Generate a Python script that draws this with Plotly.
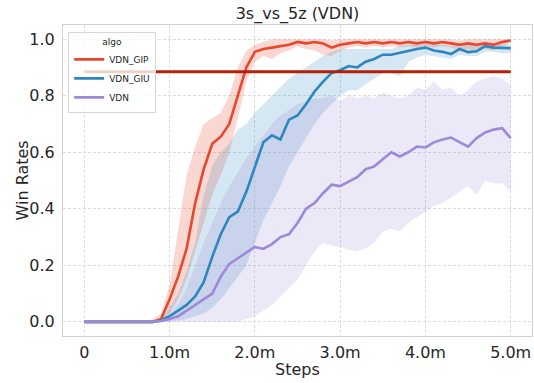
import plotly.graph_objects as go

steps = [round(i * 0.1, 1) for i in range(51)]

gip_mean = [0, 0, 0, 0, 0, 0, 0, 0, 0, 0.01, 0.08, 0.16, 0.26, 0.42, 0.54, 0.63, 0.655, 0.7, 0.8, 0.9,
            0.955, 0.965, 0.97, 0.975, 0.98, 0.99, 0.985, 0.99, 0.985, 0.97, 0.98, 0.985, 0.99, 0.985, 0.99,
            0.985, 0.99, 0.985, 0.99, 0.985, 0.99, 0.985, 0.99, 0.985, 0.98, 0.985, 0.98, 0.985, 0.98, 0.99, 0.995]
gip_upper = [0, 0, 0, 0, 0, 0, 0, 0, 0.01, 0.03, 0.13, 0.32, 0.52, 0.62, 0.7, 0.72, 0.74, 0.8, 0.9, 0.96,
             0.98, 0.99, 1.0, 1.0, 1.0, 1.0, 1.0, 1.0, 1.0, 0.995, 1.0, 1.0, 1.0, 1.0, 1.0,
             1.0, 1.0, 1.0, 1.0, 1.0, 1.0, 1.0, 1.0, 1.0, 0.995, 1.0, 1.0, 1.0, 1.0, 1.0, 1.0]
gip_lower = [0, 0, 0, 0, 0, 0, 0, 0, 0, 0, 0.03, 0.08, 0.15, 0.25, 0.35, 0.45, 0.52, 0.6, 0.72, 0.85,
             0.92, 0.94, 0.93, 0.95, 0.96, 0.975, 0.965, 0.96, 0.945, 0.94, 0.96, 0.97, 0.975, 0.97, 0.975,
             0.97, 0.975, 0.97, 0.975, 0.97, 0.975, 0.97, 0.975, 0.97, 0.96, 0.965, 0.96, 0.965, 0.96, 0.975, 0.985]

giu_mean = [0, 0, 0, 0, 0, 0, 0, 0, 0, 0.005, 0.02, 0.04, 0.06, 0.09, 0.14, 0.23, 0.31, 0.37, 0.39, 0.46,
            0.55, 0.635, 0.66, 0.645, 0.715, 0.73, 0.77, 0.815, 0.85, 0.88, 0.89, 0.905, 0.9, 0.92, 0.93,
            0.945, 0.945, 0.952, 0.957, 0.965, 0.97, 0.96, 0.955, 0.947, 0.965, 0.954, 0.957, 0.975, 0.97, 0.97, 0.968]
giu_upper = [0, 0, 0, 0, 0, 0, 0, 0, 0, 0.01, 0.05, 0.1, 0.18, 0.28, 0.45, 0.55, 0.6, 0.63, 0.68, 0.7,
             0.74, 0.77, 0.8, 0.83, 0.86, 0.88, 0.9, 0.92, 0.94, 0.955, 0.965, 0.965, 0.965, 0.965, 0.965,
             0.965, 0.965, 0.975, 0.98, 0.98, 0.985, 0.985, 0.98, 0.975, 0.985, 0.98, 0.98, 0.99, 0.985, 0.985, 0.98]
giu_lower = [0, 0, 0, 0, 0, 0, 0, 0, 0, 0, 0, 0.005, 0.01, 0.02, 0.03, 0.05, 0.08, 0.12, 0.16, 0.2,
             0.28, 0.36, 0.42, 0.48, 0.55, 0.6, 0.65, 0.7, 0.74, 0.77, 0.8, 0.82, 0.82, 0.84, 0.86,
             0.88, 0.88, 0.87, 0.92, 0.935, 0.945, 0.94, 0.935, 0.93, 0.945, 0.94, 0.94, 0.955, 0.955, 0.95, 0.95]

vdn_mean = [0, 0, 0, 0, 0, 0, 0, 0, 0, 0.003, 0.01, 0.02, 0.04, 0.06, 0.08, 0.1, 0.16, 0.205, 0.225, 0.245,
            0.265, 0.258, 0.275, 0.3, 0.31, 0.35, 0.4, 0.42, 0.455, 0.485, 0.48, 0.496, 0.512, 0.54, 0.55,
            0.575, 0.6, 0.585, 0.6, 0.62, 0.617, 0.635, 0.645, 0.652, 0.635, 0.62, 0.65, 0.67, 0.68, 0.685, 0.65]
vdn_upper = [0, 0, 0, 0, 0, 0, 0, 0, 0, 0.01, 0.03, 0.06, 0.12, 0.2, 0.28, 0.35, 0.42, 0.48, 0.53, 0.58,
             0.62, 0.66, 0.7, 0.73, 0.75, 0.77, 0.78, 0.79, 0.79, 0.8, 0.78, 0.8, 0.79, 0.8, 0.79,
             0.81, 0.8, 0.79, 0.8, 0.83, 0.82, 0.85, 0.82, 0.83, 0.8, 0.82, 0.85, 0.86, 0.87, 0.86, 0.84]
vdn_lower = [0, 0, 0, 0, 0, 0, 0, 0, 0, 0, 0, 0, 0, 0, 0, 0, 0, 0, 0, 0.01,
             0.02, 0.04, 0.06, 0.09, 0.12, 0.15, 0.2, 0.25, 0.28, 0.27, 0.265, 0.255, 0.25, 0.26, 0.28,
             0.32, 0.33, 0.32, 0.35, 0.37, 0.39, 0.41, 0.42, 0.44, 0.46, 0.48, 0.45, 0.5, 0.49, 0.49, 0.46]

baseline = 0.885
x_ticks = [0, 1, 2, 3, 4, 5]
x_tick_labels = ["0", "1.0m", "2.0m", "3.0m", "4.0m", "5.0m"]
y_ticks = [0.0, 0.2, 0.4, 0.6, 0.8, 1.0]
y_tick_labels = ["0.0", "0.2", "0.4", "0.6", "0.8", "1.0"]

series = [
    ("VDN_GIP", gip_mean, gip_upper, gip_lower, "#e8472e", "rgba(232,71,46,0.22)"),
    ("VDN_GIU", giu_mean, giu_upper, giu_lower, "#2e86be", "rgba(46,134,190,0.2)"),
    ("VDN", vdn_mean, vdn_upper, vdn_lower, "#9b8ad8", "rgba(155,138,216,0.2)"),
]

fig = go.Figure()
for name, mean, up, lo, col, fcol in series:
    fig.add_trace(go.Scatter(
        x=steps + steps[::-1], y=up + lo[::-1], fill="toself", fillcolor=fcol,
        line=dict(width=0), mode="lines", hoverinfo="skip", showlegend=False))
for name, mean, up, lo, col, fcol in series:
    fig.add_trace(go.Scatter(x=steps, y=mean, mode="lines", name=name,
                             line=dict(color=col, width=2.6)))

fig.add_shape(type="line", xref="x", yref="y", x0=steps[0], x1=steps[-1], y0=baseline, y1=baseline,
              line=dict(color="#b52008", width=3), layer="above")

font = "DejaVu Sans"
grid = "#dcdcdc"
W, H = 534, 383
ml, mr, mt, mb = 63, 2, 25, 47
pw, ph = W - ml - mr, H - mt - mb
fig.update_layout(
    width=W, height=H,
    margin=dict(l=ml, r=mr, t=mt, b=mb),
    paper_bgcolor="white", plot_bgcolor="white",
    font=dict(family=font, size=16, color="#262626"),
    title=dict(text="3s_vs_5z (VDN)", x=0.5, xref="paper", y=1 - 13 / H, yref="container",
               yanchor="middle", xanchor="center", font=dict(size=16, color="#262626")),
    showlegend=True,
    legend=dict(
        x=0.011, y=0.977, xanchor="left", yanchor="top",
        bgcolor="rgba(255,255,255,0.8)", bordercolor="#d5d5d5", borderwidth=1,
        font=dict(size=9, color="#262626"),
        title=dict(text="algo", side="top center", font=dict(size=9)),
        itemwidth=30, tracegroupgap=0,
    ),
    annotations=[
        dict(text="Steps", xref="paper", yref="paper", x=0.5, y=-(369 - (H - mb)) / ph,
             xanchor="center", yanchor="middle", showarrow=False, font=dict(size=16, color="#262626")),
        dict(text="Win Rates", xref="paper", yref="paper", x=-(ml - 22) / pw, y=0.5, textangle=-90,
             xanchor="center", yanchor="middle", showarrow=False, font=dict(size=16, color="#262626")),
    ],
)
fig.update_xaxes(
    range=[-0.25, 5.25], tickvals=x_ticks, ticktext=x_tick_labels,
    showgrid=True, gridcolor=grid, griddash="3px,2px", gridwidth=1,
    showline=True, linecolor="#d0d0d0", linewidth=1, mirror=True, zeroline=False,
    ticks="", ticklabelstandoff=2,
)
fig.update_yaxes(
    range=[-0.05, 1.05], tickvals=y_ticks, ticktext=y_tick_labels,
    showgrid=True, gridcolor=grid, griddash="3px,2px", gridwidth=1,
    showline=True, linecolor="#d0d0d0", linewidth=1, mirror=True, zeroline=False,
    ticks="", ticklabelstandoff=4,
)

fig.write_html("out.html")
